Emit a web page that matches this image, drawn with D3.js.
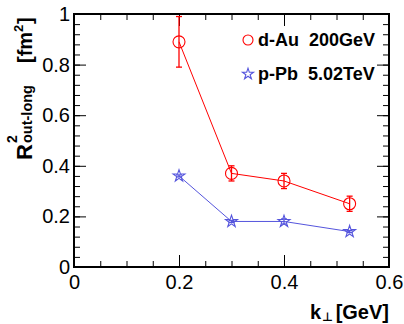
<!DOCTYPE html>
<html>
<head>
<meta charset="utf-8">
<script src="https://cdn.jsdelivr.net/npm/d3@7"></script>
<style>
  body { margin: 0; background: #fff; }
  svg { display: block; font-family: "Liberation Sans", Arial, sans-serif; }
</style>
</head>
<body>
<svg id="chart" width="404" height="324"></svg>
<script>
// k_T bins and R^2 out-long values
const kT = [0.2, 0.3, 0.4, 0.525];
const dAu = [0.89, 0.37, 0.34, 0.25];
const dAuErr = [0.1, 0.03, 0.03, 0.03];
const pPb = [0.36, 0.18, 0.18, 0.14];
const pPbErr = [0.004, 0.004, 0.01, 0.004];

const xTicks = [0, 0.2, 0.4, 0.6];
const yTicks = [0, 0.2, 0.4, 0.6, 0.8, 1];
const xMinor = d3.range(0, 0.6001, 0.05);
const yMinor = d3.range(0, 1.0001, 0.04);

const padL = 74, padR = 389, padT = 14, padB = 267;
const red = '#ff0000', blue = '#5555dd';

const svg = d3.select('#chart');

const x = d3.scaleLinear().domain([0, 0.6]).range([padL, padR]);
const y = d3.scaleLinear().domain([0, 1]).range([padB, padT]);
const fmt = d3.format('~g');

// axes: ticks point inward on all four sides
function axis(gen, tx, ty, values, size, labels) {
  const g = svg.append('g')
    .attr('transform', 'translate(' + tx + ',' + ty + ')')
    .call(gen.tickValues(values).tickSize(-size).tickSizeOuter(0)
      .tickFormat(labels ? fmt : () => ''));
  g.select('.domain').remove();
  g.selectAll('line').attr('stroke', '#000').attr('stroke-width', 1);
  g.selectAll('text').attr('font-size', 20).attr('fill', '#000');
  return g;
}

axis(d3.axisBottom(x).tickPadding(8), 0, padB, xTicks, 12, true);
axis(d3.axisBottom(x), 0, padB, xMinor, 6, false);
axis(d3.axisTop(x), 0, padT, xTicks, 12, false);
axis(d3.axisTop(x), 0, padT, xMinor, 6, false);
axis(d3.axisLeft(y).tickPadding(4), padL, 0, yTicks, 12, true);
axis(d3.axisLeft(y), padL, 0, yMinor, 6, false);
axis(d3.axisRight(y), padR, 0, yTicks, 12, false);
axis(d3.axisRight(y), padR, 0, yMinor, 6, false);

svg.append('rect')
  .attr('x', padL).attr('y', padT)
  .attr('width', padR - padL).attr('height', padB - padT)
  .attr('fill', 'none').attr('stroke', '#000').attr('stroke-width', 2);

// series
function series(vals, errs, color, marker) {
  const pts = kT.map((k, i) => ({k: k, v: vals[i], e: errs[i]}));
  const line = d3.line().x(d => x(d.k)).y(d => y(d.v));
  svg.append('path').datum(pts)
    .attr('d', line).attr('fill', 'none')
    .attr('stroke', color).attr('stroke-width', 1);

  const eb = svg.append('g').attr('stroke', color).attr('stroke-width', 1.3);
  pts.forEach(d => {
    const x0 = x(d.k), y1 = y(d.v + d.e), y2 = y(d.v - d.e);
    eb.append('line').attr('x1', x0).attr('x2', x0).attr('y1', y1).attr('y2', y2);
    eb.append('line').attr('x1', x0 - 3).attr('x2', x0 + 3).attr('y1', y1).attr('y2', y1);
    eb.append('line').attr('x1', x0 - 3).attr('x2', x0 + 3).attr('y1', y2).attr('y2', y2);
  });

  svg.append('g').selectAll('path')
    .data(pts).enter().append('path')
    .attr('transform', d => 'translate(' + x(d.k) + ',' + y(d.v) + ')')
    .attr('d', marker)
    .attr('fill', 'none').attr('stroke', color).attr('stroke-width', 1.1);
}

const circle = d3.symbol().type(d3.symbolCircle).size(Math.PI * 36)();
const star = d3.symbol().type(d3.symbolStar).size(44)();

series(dAu, dAuErr, red, circle);
series(pPb, pPbErr, blue, star);

// legend
const legend = [
  {label: 'd-Au  200GeV', color: red, marker: d3.symbol().type(d3.symbolCircle).size(Math.PI * 25)(), y: 40},
  {label: 'p-Pb  5.02TeV', color: blue, marker: d3.symbol().type(d3.symbolStar).size(38)(), y: 74}
];
const lg = svg.append('g').selectAll('g').data(legend).enter().append('g');
lg.append('path')
  .attr('transform', d => 'translate(248,' + d.y + ')')
  .attr('d', d => d.marker)
  .attr('fill', 'none').attr('stroke', d => d.color).attr('stroke-width', 1.1);
lg.append('text')
  .attr('x', 258).attr('y', d => d.y + 5.5)
  .attr('font-size', 18).attr('font-weight', 'bold')
  .style('white-space', 'pre')
  .text(d => d.label);

// x title
const xt = svg.append('g').attr('font-weight', 'bold');
xt.append('text').attr('x', 310).attr('y', 319).attr('font-size', 20).text('k');
xt.append('text').attr('x', 322).attr('y', 321).attr('font-size', 12)
  .attr('font-family', 'DejaVu Sans').text('\u22a5');
xt.append('text').attr('x', 389).attr('y', 319).attr('font-size', 20)
  .attr('text-anchor', 'end').text('[GeV]');

// y title (rotated)
const yt = svg.append('g').attr('font-weight', 'bold')
  .attr('transform', 'translate(32,160) rotate(-90)');
yt.append('text').attr('x', 0).attr('y', 0).attr('font-size', 22).text('R');
yt.append('text').attr('x', 17).attr('y', -15).attr('font-size', 14).text('2');
yt.append('text').attr('x', 17).attr('y', 0).attr('font-size', 14.5).text('out-long');
yt.append('text').attr('x', 97).attr('y', 0).attr('font-size', 20).text('[fm');
yt.append('text').attr('x', 128).attr('y', -9).attr('font-size', 13).text('2');
yt.append('text').attr('x', 136).attr('y', 0).attr('font-size', 20).text(']');
</script>
</body>
</html>
